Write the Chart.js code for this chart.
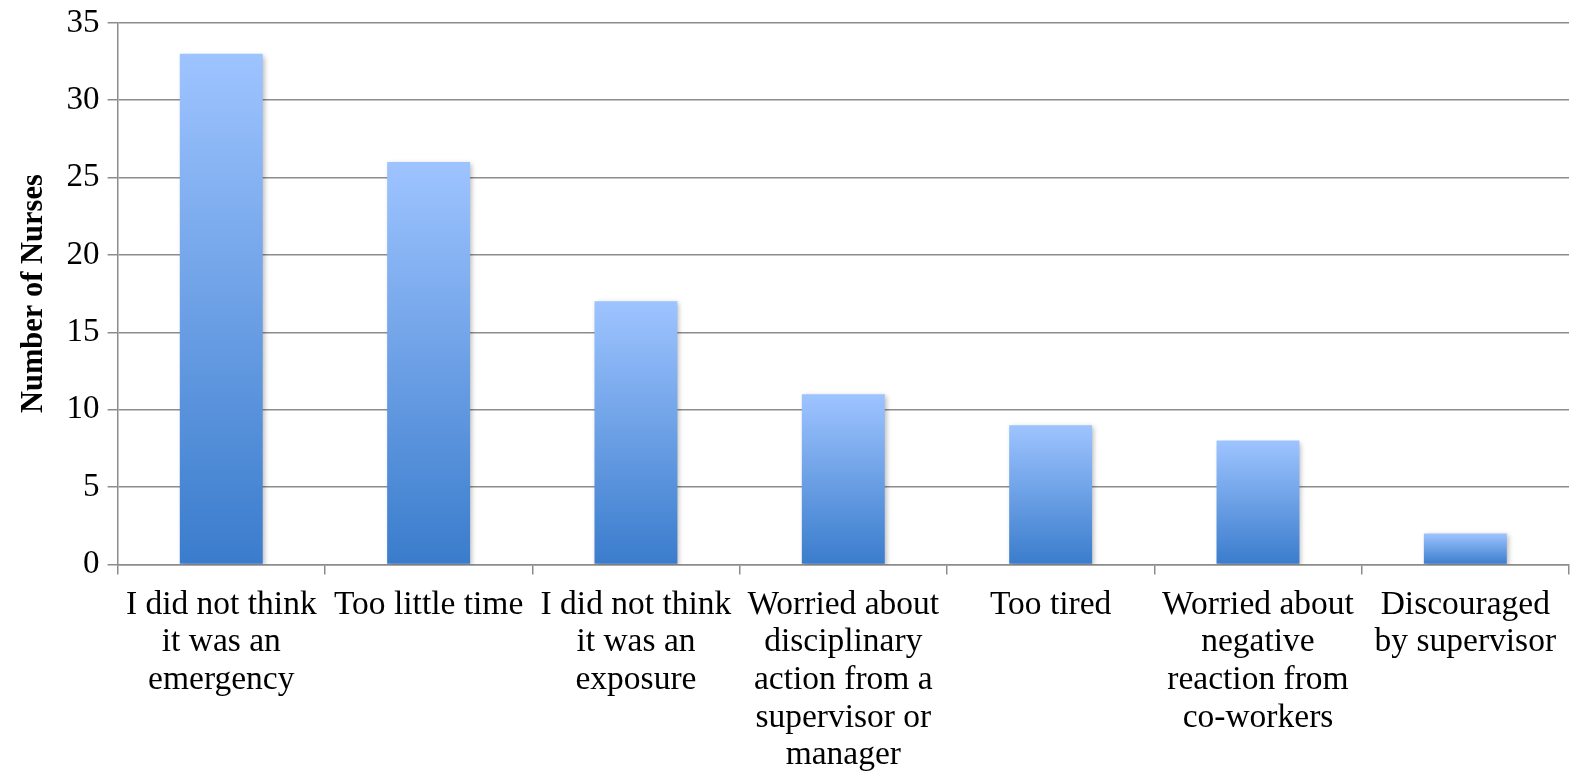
<!DOCTYPE html>
<html>
<head>
<meta charset="utf-8">
<script src="https://cdn.jsdelivr.net/npm/chart.js@4/dist/chart.umd.min.js"></script>
<style>
  html, body { margin: 0; padding: 0; background: #fff; }
  #wrap { width: 1574px; height: 772px; }
</style>
</head>
<body>
<div id="wrap"><canvas id="reasons-chart"></canvas></div>
<script>
// Reasons nurses gave for not reporting an exposure
const reasons = [
  ['I did not think', 'it was an', 'emergency'],
  ['Too little time'],
  ['I did not think', 'it was an', 'exposure'],
  ['Worried about', 'disciplinary', 'action from a', 'supervisor or', 'manager'],
  ['Too tired'],
  ['Worried about', 'negative', 'reaction from', 'co-workers'],
  ['Discouraged', 'by supervisor']
];
const nurseCounts = [33, 26, 17, 11, 9, 8, 2];
const yTicks = [0, 5, 10, 15, 20, 25, 30, 35];

const axisGray = '#8c8c8c';
const fontFamily = '"Liberation Serif", "DejaVu Serif", serif';

// each bar gets its own vertical gradient, light at the top, darker at the base
function barGradient(context) {
  const chart = context.chart;
  const yScale = chart.scales.y;
  if (!chart.chartArea || !yScale || context.parsed === undefined) {
    return 'rgb(110,160,230)';
  }
  const top = yScale.getPixelForValue(context.parsed.y);
  const bottom = yScale.getPixelForValue(0);
  const grad = chart.ctx.createLinearGradient(0, top, 0, bottom);
  grad.addColorStop(0, 'rgb(158,196,255)');
  grad.addColorStop(1, 'rgb(58,124,204)');
  return grad;
}

// soft drop shadow under the bars
const barShadow = {
  id: 'barShadow',
  beforeDatasetsDraw(chart) {
    const ctx = chart.ctx;
    ctx.save();
    ctx.shadowColor = 'rgba(0,0,0,0.28)';
    ctx.shadowBlur = 5;
    ctx.shadowOffsetX = 2;
    ctx.shadowOffsetY = 2;
  },
  afterDatasetsDraw(chart) {
    chart.ctx.restore();
  }
};

new Chart(document.getElementById('reasons-chart').getContext('2d'), {
  type: 'bar',
  data: {
    labels: reasons,
    datasets: [{
      data: nurseCounts,
      backgroundColor: barGradient,
      borderWidth: 0,
      categoryPercentage: 0.4,
      barPercentage: 1.0
    }]
  },
  options: {
    responsive: true,
    maintainAspectRatio: false,
    animation: false,
    devicePixelRatio: 1,
    layout: { padding: { top: 0, right: 5, bottom: -14, left: 16 } },
    plugins: {
      legend: { display: false },
      tooltip: { enabled: false }
    },
    scales: {
      x: {
        grid: {
          offset: true,
          drawOnChartArea: false,
          drawTicks: true,
          tickLength: 10,
          color: axisGray,
          lineWidth: 1.5
        },
        border: { color: axisGray, width: 1.5 },
        ticks: {
          color: '#000',
          maxRotation: 0,
          autoSkip: false,
          padding: 12,
          font: { family: fontFamily, size: 33.5, lineHeight: 1.12 }
        }
      },
      y: {
        min: 0,
        max: 35,
        afterBuildTicks(axis) {
          axis.ticks = yTicks.map(v => ({ value: v }));
        },
        grid: {
          color: axisGray,
          lineWidth: 1.5,
          drawTicks: true,
          tickLength: 10
        },
        border: { color: axisGray, width: 1.5 },
        ticks: {
          color: '#000',
          padding: 8,
          font: { family: fontFamily, size: 33, lineHeight: 0.9 }
        },
        title: {
          display: true,
          text: 'Number of Nurses',
          color: '#000',
          padding: { top: 0, bottom: 6 },
          font: { family: fontFamily, size: 30.5, weight: 'bold' }
        }
      }
    }
  },
  plugins: [barShadow]
});
</script>
</body>
</html>
